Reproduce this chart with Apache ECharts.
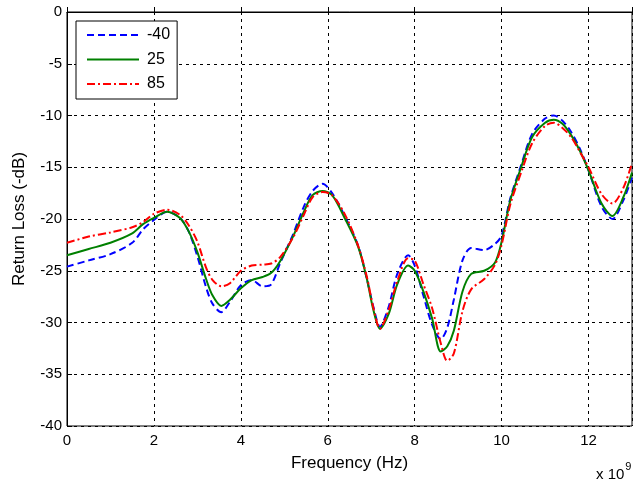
<!DOCTYPE html>
<html><head><meta charset="utf-8">
<script src="https://cdn.jsdelivr.net/npm/echarts@6/dist/echarts.min.js"></script>
<style>html,body{margin:0;padding:0;background:#fff}#c{width:635px;height:483px}</style>
</head><body><div id="c"></div>
<script>
const freqGHz = [0,0.5,1.0,1.5,1.75,2.0,2.3,2.6,2.8,3.0,3.2,3.35,3.55,3.75,4.0,4.25,4.5,4.7,4.9,5.2,5.45,5.65,5.88,6.1,6.4,6.7,6.9,7.05,7.2,7.4,7.6,7.85,8.0,8.2,8.4,8.6,8.75,8.9,9.1,9.3,9.6,9.85,10.0,10.2,10.45,10.7,11.0,11.2,11.4,11.6,11.8,12.0,12.3,12.55,12.8,13.0];
const seriesNames = ['-40','25','85'];
const rlM40 = [-24.6,-24.0,-23.4,-22.3,-21.0,-20.1,-19.3,-19.9,-21.2,-23.6,-26.6,-28.2,-29.0,-28.0,-26.4,-25.9,-26.5,-26.3,-24.3,-21.5,-18.8,-17.3,-16.6,-17.5,-19.8,-22.6,-25.8,-28.5,-30.4,-28.5,-25.3,-23.5,-24.5,-27.4,-30.2,-31.6,-30.5,-27.8,-24.0,-22.8,-23.0,-22.4,-21.6,-18.0,-14.8,-11.8,-10.3,-10.0,-10.5,-11.6,-13.2,-15.3,-18.8,-20.0,-18.2,-16.0];
const rl25 = [-23.5,-22.9,-22.3,-21.4,-20.5,-19.9,-19.3,-19.9,-21.2,-23.2,-25.8,-27.4,-28.4,-27.8,-26.7,-25.9,-25.6,-25.2,-24.1,-21.7,-19.3,-17.7,-17.3,-17.7,-20.0,-22.7,-25.8,-28.8,-30.6,-29.2,-26.3,-24.5,-25.0,-27.0,-29.6,-32.8,-32.3,-30.8,-27.0,-25.3,-25.0,-24.2,-22.2,-18.2,-15.0,-12.1,-10.7,-10.4,-10.8,-11.9,-13.4,-15.3,-18.5,-19.7,-17.9,-15.5];
const rl85 = [-22.3,-21.7,-21.3,-20.8,-20.3,-19.5,-19.1,-19.6,-20.6,-22.2,-24.7,-25.9,-26.5,-26.2,-25.0,-24.5,-24.4,-24.3,-23.7,-21.8,-19.6,-17.9,-17.4,-17.7,-19.6,-22.6,-25.6,-28.6,-30.6,-28.8,-26.0,-23.8,-24.0,-26.3,-28.6,-32.0,-33.7,-33.0,-28.9,-26.8,-25.8,-24.4,-22.5,-18.6,-15.5,-12.7,-11.0,-10.7,-11.2,-12.1,-13.5,-15.0,-17.6,-18.5,-17.0,-14.6];
const xTicks = [0,2,4,6,8,10,12];
const yTicks = [0,-5,-10,-15,-20,-25,-30,-35,-40];

const pair = ys => freqGHz.map((f,i)=>[f,ys[i]]);
const font = 'Liberation Sans, Arial, sans-serif';
const fs = 15;
const nfs = 17;
const chart = echarts.init(document.getElementById('c'));
const gridLine = {show:true, lineStyle:{color:'#000', type:[3,4], width:1}};
chart.setOption({
  animation:false,
  backgroundColor:'#fff',
  grid:{left:67,right:2,top:12,bottom:57,show:true,borderColor:'#000',borderWidth:1,backgroundColor:'#fff'},
  xAxis:{type:'value',min:0,max:13,interval:2,
    axisLine:{show:true,lineStyle:{color:'#000'}},
    axisTick:{show:true,inside:true,length:5,lineStyle:{color:'#000'}},
    splitLine:gridLine,
    axisLabel:{color:'#000',fontFamily:font,fontSize:fs,margin:7,
      formatter:v=>xTicks.includes(v)?String(v):''},
    name:'Frequency (Hz)',nameLocation:'middle',nameGap:29,
    nameTextStyle:{color:'#000',fontFamily:font,fontSize:nfs}},
  yAxis:{type:'value',min:-40,max:0,interval:5,
    axisLine:{show:true,lineStyle:{color:'#000'}},
    axisTick:{show:true,inside:true,length:5,lineStyle:{color:'#000'}},
    splitLine:gridLine,
    axisLabel:{color:'#000',fontFamily:font,fontSize:fs,margin:5,
      formatter:v=>yTicks.includes(v)?String(v):''},
    name:'Return Loss (-dB)',nameLocation:'middle',nameGap:39,nameRotate:90,
    nameTextStyle:{color:'#000',fontFamily:font,fontSize:nfs}},
  legend:{orient:'vertical',left:76,top:21,itemWidth:52,itemHeight:16,itemGap:8.5,
    padding:[6,7,7,10],borderColor:'#000',borderWidth:1,backgroundColor:'#fff',borderRadius:0,
    itemStyle:{opacity:0},
    textStyle:{color:'#000',fontFamily:font,fontSize:16,padding:[0,0,0,3]},
    data:seriesNames},
  graphic:[{type:'text',left:596,top:461,style:{
    text:'{a|x 10}{b|9}',
    rich:{a:{fontFamily:font,fontSize:fs,fill:'#000',padding:[6,0,0,0]},b:{fontFamily:font,fontSize:11,fill:'#000',verticalAlign:'top',padding:[0,0,0,1]}}}}],
  series:[
    {name:seriesNames[0],type:'line',smooth:0.3,symbol:'none',data:pair(rlM40),
      lineStyle:{color:'#0000ff',width:2,type:[7,4]},itemStyle:{color:'#0000ff'}},
    {name:seriesNames[1],type:'line',smooth:0.3,symbol:'none',data:pair(rl25),
      lineStyle:{color:'#008000',width:2,type:'solid'},itemStyle:{color:'#008000'}},
    {name:seriesNames[2],type:'line',smooth:0.3,symbol:'none',data:pair(rl85),
      lineStyle:{color:'#ff0000',width:2,type:[8,3,2,3]},itemStyle:{color:'#ff0000'}}
  ]
});
</script></body></html>
